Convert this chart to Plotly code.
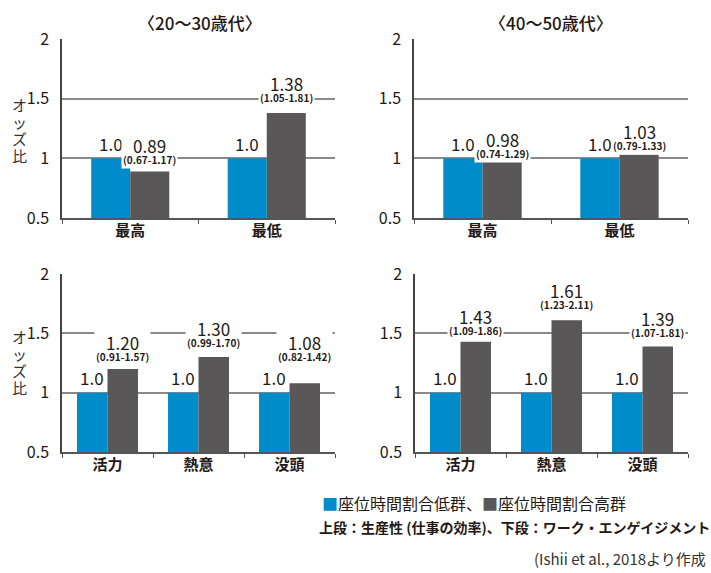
import plotly.graph_objects as go

# ---------------- data ----------------
cats_top = ["最高", "最低"]
cats_bottom = ["活力", "熱意", "没頭"]

low_top_2030 = [1.0, 1.0]
high_top_2030 = [0.89, 1.38]
ci_top_2030 = ["(0.67-1.17)", "(1.05-1.81)"]

low_top_4050 = [1.0, 1.0]
high_top_4050 = [0.98, 1.03]
ci_top_4050 = ["(0.74-1.29)", "(0.79-1.33)"]

low_bot_2030 = [1.0, 1.0, 1.0]
high_bot_2030 = [1.20, 1.30, 1.08]
ci_bot_2030 = ["(0.91-1.57)", "(0.99-1.70)", "(0.82-1.42)"]

low_bot_4050 = [1.0, 1.0, 1.0]
high_bot_4050 = [1.43, 1.61, 1.39]
ci_bot_4050 = ["(1.09-1.86)", "(1.23-2.11)", "(1.07-1.81)"]

y_tickvals = [0.5, 1, 1.5, 2]
y_ticktext = ["0.5", "1", "1.5", "2"]

titles = ["〈20～30歳代〉", "〈40～50歳代〉"]
legend_low = "座位時間割合低群"
legend_high = "座位時間割合高群"
note_line = "上段：生産性 (仕事の効率)、下段：ワーク・エンゲイジメント"
source_line = "(Ishii et al., 2018より作成"
y_title = "オッズ比"

# ---------------- style ----------------
W, H = 711, 573
BLUE = "#008bca"
GRAY = "#595757"
TXT = "#231815"
FONT = "Noto Sans CJK JP"

# label lift (px above the bar top) of the gray-bar labels, per panel
label_lift = [[10, 14], [6, 8], [11, 13, 25], [10, 14, 12]]


def px(x):
    return x / W


def py(y):
    return 1 - y / H


panels = [
    # (cats, low, high, ci, xdomain px, ydomain px, bar width)
    (cats_top, low_top_2030, high_top_2030, ci_top_2030, (62, 335), (39, 218), 0.286),
    (cats_top, low_top_4050, high_top_4050, ci_top_4050, (414, 688), (39, 218), 0.286),
    (cats_bottom, low_bot_2030, high_bot_2030, ci_bot_2030, (62, 335), (274, 452), 0.335),
    (cats_bottom, low_bot_4050, high_bot_4050, ci_bot_4050, (415, 688), (274, 452), 0.335),
]

fig = go.Figure()
annotations = []

for i, (cats, low, high, ci, xd, yd, w) in enumerate(panels):
    n = i + 1
    xa = "x" if n == 1 else f"x{n}"
    ya = "y" if n == 1 else f"y{n}"
    fig.add_trace(go.Bar(x=cats, y=low, width=w, offset=-w, marker_color=BLUE,
                         marker_line_width=0, xaxis=xa, yaxis=ya,
                         name=legend_low, showlegend=False))
    fig.add_trace(go.Bar(x=cats, y=high, width=w, offset=0, marker_color=GRAY,
                         marker_line_width=0, xaxis=xa, yaxis=ya,
                         name=legend_high, showlegend=False))
    xkey = "xaxis" if n == 1 else f"xaxis{n}"
    ykey = "yaxis" if n == 1 else f"yaxis{n}"
    fig.update_layout(**{
        xkey: dict(domain=[px(xd[0]), px(xd[1])], anchor=ya, type="category",
                   range=[-0.5, len(cats) - 0.5], showline=True, linecolor="#555",
                   linewidth=2, ticks="outside", tickson="boundaries", ticklen=4,
                   tickcolor="#555", tickwidth=1, showgrid=False, automargin=False,
                   ticklabelstandoff=-2,
                   tickfont=dict(family=FONT, size=15, color=TXT, weight="bold")),
        ykey: dict(domain=[py(yd[1]), py(yd[0])], anchor=xa, range=[0.5, 2],
                   tickvals=y_tickvals, ticktext=y_ticktext, showline=True,
                   linecolor="#444", linewidth=1.5, showgrid=True,
                   gridcolor="#8a8a8a", gridwidth=1.5, zeroline=False, ticks="",
                   ticklabelstandoff=8, automargin=False,
                   tickfont=dict(family=FONT, size=16, color=TXT)),
    })
    for j, c in enumerate(cats):
        annotations.append(dict(x=j - w / 2, y=low[j], xref=xa, yref=ya,
                                text=f"{low[j]:.1f}", showarrow=False,
                                yanchor="middle", yshift=15,
                                font=dict(family=FONT, size=17, color=TXT)))
        txt = (f"<span style='font-size:17px;font-weight:normal'>{high[j]:.2f}</span>"
               f"<br><span style='font-size:10px'>{ci[j]}</span>")
        annotations.append(dict(x=j + w / 2, y=high[j], xref=xa, yref=ya,
                                text=txt, showarrow=False,
                                yanchor="bottom", yshift=label_lift[i][j] - 8,
                                bgcolor="white", borderpad=1,
                                font=dict(family=FONT, size=8.5, color=TXT,
                                          weight="bold")))

# titles
for t, cx in zip(titles, [200, 551]):
    annotations.append(dict(x=px(cx), y=py(23), xref="paper", yref="paper",
                            text=t, showarrow=False, xanchor="center",
                            yanchor="middle",
                            font=dict(family=FONT, size=17, color=TXT,
                                      weight=500)))

# vertical y-axis titles (upright characters stacked)
vt = "<br>".join(f"<span style='font-size:15px'>{ch}</span>" for ch in y_title)
for yc in [130, 362]:
    annotations.append(dict(x=px(19), y=py(yc), xref="paper", yref="paper",
                            text=vt, showarrow=False, xanchor="center",
                            yanchor="middle",
                            font=dict(family=FONT, size=13, color="#333")))

# legend & notes
annotations.append(dict(
    x=px(320), y=py(503), xref="paper", yref="paper", xanchor="left",
    yanchor="middle", showarrow=False,
    text=(f"<span style='color:{BLUE}'>■</span>{legend_low}、"
          f"<span style='color:{GRAY}'>■</span>{legend_high}"),
    font=dict(family=FONT, size=16, color=TXT)))
annotations.append(dict(
    x=px(317), y=py(527), xref="paper", yref="paper", xanchor="left",
    yanchor="middle", showarrow=False, text=note_line,
    font=dict(family=FONT, size=14, color=TXT, weight="bold")))
annotations.append(dict(
    x=px(708), y=py(558), xref="paper", yref="paper", xanchor="right",
    yanchor="middle", showarrow=False, text=source_line,
    font=dict(family=FONT, size=15, color="#333")))

fig.update_layout(
    width=W, height=H, margin=dict(l=0, r=0, t=0, b=0),
    paper_bgcolor="white", plot_bgcolor="white",
    barmode="overlay", showlegend=False,
    annotations=annotations,
    font=dict(family=FONT, color=TXT),
)

fig.write_html("out.html")
